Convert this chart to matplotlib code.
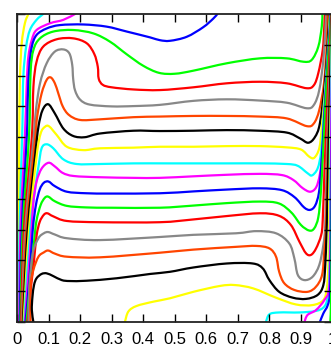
import matplotlib.pyplot as plt
from matplotlib.path import Path
from matplotlib.patches import PathPatch

# isotherms of the cavity, listed from the warmest (top left) to the coldest (bottom right)
# each one as (x, y) points along the line
iso_01 = [(0.003, 0.0), (0.005, 0.3), (0.007, 0.6), (0.0095, 0.796), (0.015, 0.905), (0.025, 0.970), (0.036, 1.0)]
iso_02 = [(0.005, 0.0), (0.008, 0.3), (0.017, 0.63), (0.020, 0.796), (0.029, 0.894), (0.041, 0.948),
          (0.062, 0.981), (0.083, 1.0)]
iso_03 = [(0.007, 0.0), (0.011, 0.3), (0.025, 0.6), (0.031, 0.775), (0.036, 0.861), (0.047, 0.916),
          (0.062, 0.948), (0.105, 0.970), (0.147, 0.981), (0.184, 1.0)]
iso_04 = [(0.009, 0.0), (0.015, 0.3), (0.031, 0.6), (0.034, 0.721), (0.039, 0.829), (0.047, 0.894),
          (0.062, 0.932), (0.094, 0.953), (0.136, 0.964), (0.210, 0.966), (0.284, 0.959), (0.348, 0.943),
          (0.422, 0.924), (0.453, 0.915), (0.485, 0.913), (0.538, 0.926), (0.590, 0.957), (0.622, 0.985),
          (0.635, 1.0)]
iso_05 = [(0.011, 0.0), (0.018, 0.3), (0.038, 0.6), (0.043, 0.808), (0.052, 0.883), (0.073, 0.921),
          (0.115, 0.943), (0.178, 0.948), (0.242, 0.937), (0.295, 0.910), (0.348, 0.869), (0.400, 0.832),
          (0.450, 0.809), (0.500, 0.806), (0.559, 0.816), (0.665, 0.840), (0.770, 0.856), (0.855, 0.856),
          (0.908, 0.845), (0.934, 0.851), (0.955, 0.894), (0.966, 0.959), (0.968, 1.0)]
iso_06 = [(0.013, 0.0), (0.022, 0.3), (0.047, 0.6), (0.052, 0.764), (0.062, 0.845), (0.083, 0.894),
          (0.126, 0.918), (0.178, 0.921), (0.221, 0.905), (0.245, 0.870), (0.256, 0.829), (0.259, 0.790),
          (0.272, 0.770), (0.300, 0.762), (0.369, 0.755), (0.453, 0.753), (0.559, 0.762), (0.665, 0.775),
          (0.770, 0.780), (0.855, 0.775), (0.918, 0.759), (0.941, 0.769), (0.955, 0.808), (0.969, 0.883),
          (0.974, 0.959), (0.976, 1.0)]
iso_07 = [(0.015, 0.0), (0.026, 0.3), (0.053, 0.6), (0.060, 0.688), (0.073, 0.775), (0.094, 0.840),
          (0.120, 0.878), (0.147, 0.885), (0.166, 0.872), (0.175, 0.835), (0.178, 0.790), (0.184, 0.752),
          (0.200, 0.722), (0.230, 0.706), (0.300, 0.700), (0.369, 0.701), (0.453, 0.705), (0.559, 0.718),
          (0.665, 0.723), (0.770, 0.719), (0.855, 0.712), (0.918, 0.694), (0.941, 0.705), (0.958, 0.753),
          (0.971, 0.851), (0.978, 0.959), (0.980, 1.0)]
iso_08 = [(0.017, 0.0), (0.030, 0.3), (0.058, 0.6), (0.064, 0.667), (0.078, 0.742), (0.094, 0.786),
          (0.107, 0.794), (0.120, 0.775), (0.131, 0.742), (0.145, 0.700), (0.165, 0.672), (0.200, 0.656),
          (0.263, 0.658), (0.369, 0.665), (0.453, 0.667), (0.559, 0.669), (0.665, 0.669), (0.770, 0.667),
          (0.855, 0.661), (0.918, 0.636), (0.941, 0.645), (0.958, 0.688), (0.973, 0.775), (0.982, 0.905),
          (0.985, 1.0)]
iso_09 = [(0.019, 0.0), (0.034, 0.3), (0.057, 0.537), (0.068, 0.634), (0.081, 0.688), (0.099, 0.707),
          (0.120, 0.677), (0.147, 0.628), (0.178, 0.604), (0.215, 0.600), (0.263, 0.612), (0.369, 0.621),
          (0.453, 0.620), (0.559, 0.621), (0.665, 0.623), (0.770, 0.621), (0.855, 0.615), (0.897, 0.596),
          (0.923, 0.582), (0.944, 0.600), (0.960, 0.645), (0.976, 0.775), (0.987, 0.937), (0.989, 1.0)]
iso_10 = [(0.021, 0.0), (0.038, 0.3), (0.062, 0.537), (0.075, 0.612), (0.089, 0.634), (0.102, 0.635),
          (0.126, 0.607), (0.158, 0.569), (0.210, 0.558), (0.263, 0.564), (0.369, 0.566), (0.453, 0.569),
          (0.559, 0.569), (0.665, 0.571), (0.770, 0.571), (0.855, 0.567), (0.900, 0.560), (0.926, 0.537),
          (0.942, 0.533), (0.958, 0.564), (0.966, 0.629), (0.972, 0.700), (0.981, 0.800), (0.988, 0.900),
          (0.991, 1.0)]
iso_11 = [(0.023, 0.0), (0.042, 0.3), (0.060, 0.45), (0.068, 0.504), (0.078, 0.564), (0.094, 0.577),
          (0.115, 0.564), (0.147, 0.528), (0.189, 0.513), (0.263, 0.513), (0.369, 0.515), (0.485, 0.515),
          (0.665, 0.515), (0.770, 0.515), (0.855, 0.513), (0.890, 0.507), (0.921, 0.483), (0.935, 0.476),
          (0.953, 0.499), (0.964, 0.553), (0.971, 0.650), (0.980, 0.800), (0.988, 0.920), (0.993, 1.0)]
iso_12 = [(0.025, 0.0), (0.046, 0.3), (0.052, 0.391), (0.062, 0.456), (0.078, 0.498), (0.100, 0.517),
          (0.120, 0.505), (0.145, 0.484), (0.180, 0.474), (0.263, 0.470), (0.369, 0.468), (0.453, 0.468),
          (0.559, 0.473), (0.665, 0.478), (0.770, 0.481), (0.840, 0.477), (0.876, 0.461), (0.905, 0.435),
          (0.929, 0.423), (0.948, 0.437), (0.960, 0.480), (0.968, 0.550), (0.976, 0.700), (0.986, 0.870),
          (0.994, 1.0)]
iso_13 = [(0.027, 0.0), (0.040, 0.15), (0.050, 0.30), (0.060, 0.380), (0.072, 0.430), (0.085, 0.452),
          (0.100, 0.456), (0.120, 0.441), (0.158, 0.423), (0.220, 0.418), (0.300, 0.417), (0.453, 0.418),
          (0.559, 0.424), (0.665, 0.430), (0.770, 0.434), (0.840, 0.428), (0.880, 0.405), (0.910, 0.372),
          (0.929, 0.364), (0.945, 0.378), (0.957, 0.420), (0.964, 0.500), (0.973, 0.650), (0.985, 0.850),
          (0.995, 1.0)]
iso_14 = [(0.030, 0.0), (0.044, 0.15), (0.055, 0.27), (0.062, 0.330), (0.075, 0.380), (0.088, 0.403),
          (0.099, 0.407), (0.120, 0.392), (0.158, 0.377), (0.220, 0.372), (0.300, 0.371), (0.453, 0.371),
          (0.559, 0.378), (0.665, 0.386), (0.770, 0.391), (0.830, 0.385), (0.870, 0.355), (0.900, 0.315),
          (0.926, 0.297), (0.942, 0.304), (0.955, 0.340), (0.963, 0.420), (0.970, 0.550), (0.980, 0.750),
          (0.990, 0.920), (0.996, 1.0)]
iso_15 = [(0.033, 0.0), (0.045, 0.12), (0.054, 0.20), (0.062, 0.280), (0.072, 0.325), (0.085, 0.348),
          (0.096, 0.353), (0.115, 0.343), (0.158, 0.328), (0.263, 0.324), (0.453, 0.324), (0.559, 0.333),
          (0.665, 0.344), (0.770, 0.353), (0.830, 0.345), (0.868, 0.315), (0.895, 0.261), (0.916, 0.223),
          (0.932, 0.218), (0.948, 0.239), (0.964, 0.282), (0.969, 0.330), (0.975, 0.500), (0.983, 0.700),
          (0.992, 0.900), (0.997, 1.0)]
iso_16 = [(0.037, 0.0), (0.039, 0.115), (0.050, 0.223), (0.068, 0.272), (0.085, 0.288), (0.099, 0.292),
          (0.120, 0.284), (0.158, 0.272), (0.263, 0.266), (0.453, 0.276), (0.559, 0.283), (0.694, 0.288),
          (0.758, 0.295), (0.821, 0.288), (0.863, 0.255), (0.879, 0.207), (0.890, 0.153), (0.911, 0.136),
          (0.937, 0.147), (0.958, 0.185), (0.971, 0.250), (0.977, 0.315), (0.981, 0.500), (0.987, 0.700),
          (0.994, 0.900), (0.998, 1.0)]
iso_17 = [(0.043, 0.0), (0.043, 0.115), (0.052, 0.169), (0.068, 0.212), (0.085, 0.226), (0.099, 0.232),
          (0.120, 0.222), (0.158, 0.212), (0.263, 0.210), (0.453, 0.225), (0.559, 0.235), (0.694, 0.244),
          (0.758, 0.247), (0.800, 0.239), (0.821, 0.212), (0.831, 0.163), (0.847, 0.126), (0.879, 0.104),
          (0.921, 0.098), (0.948, 0.115), (0.967, 0.153), (0.974, 0.228), (0.980, 0.315), (0.984, 0.500),
          (0.990, 0.700), (0.996, 0.900), (0.999, 1.0)]
iso_18 = [(0.052, 0.0), (0.047, 0.039), (0.049, 0.082), (0.054, 0.120), (0.062, 0.142), (0.078, 0.156),
          (0.094, 0.158), (0.115, 0.149), (0.142, 0.136), (0.168, 0.133), (0.221, 0.134), (0.316, 0.142),
          (0.422, 0.156), (0.485, 0.163), (0.559, 0.177), (0.665, 0.190), (0.747, 0.190), (0.779, 0.174),
          (0.800, 0.136), (0.831, 0.098), (0.874, 0.079), (0.916, 0.075), (0.953, 0.088), (0.971, 0.120),
          (0.977, 0.185), (0.982, 0.315), (0.986, 0.500), (0.992, 0.750), (0.998, 1.0)]
iso_19 = [(0.342, 0.0), (0.353, 0.034), (0.379, 0.052), (0.432, 0.066), (0.485, 0.077), (0.559, 0.098),
          (0.643, 0.117), (0.690, 0.120), (0.749, 0.109), (0.821, 0.079), (0.884, 0.057), (0.937, 0.055),
          (0.971, 0.071), (0.982, 0.109), (0.987, 0.185), (0.989, 0.315), (0.991, 0.500), (0.995, 0.750),
          (0.999, 1.0)]
iso_20 = [(0.789, 0.0), (0.800, 0.025), (0.831, 0.031), (0.895, 0.031), (0.948, 0.036), (0.974, 0.050),
          (0.985, 0.082), (0.990, 0.153), (0.992, 0.315), (0.994, 0.600), (0.999, 1.0)]
iso_21 = [(0.911, 0.0), (0.921, 0.023), (0.948, 0.039), (0.974, 0.071), (0.989, 0.109), (0.993, 0.250),
          (0.996, 0.600), (1.0, 1.0)]
iso_22 = [(0.960, 0.0), (0.971, 0.028), (0.985, 0.055), (0.992, 0.098), (0.995, 0.250), (0.998, 0.600),
          (1.0, 1.0)]
iso_23 = [(0.993, 0.0), (0.996, 0.100), (0.998, 0.400), (1.0, 1.0)]

isotherms = [iso_01, iso_02, iso_03, iso_04, iso_05, iso_06, iso_07, iso_08, iso_09, iso_10, iso_11, iso_12,
             iso_13, iso_14, iso_15, iso_16, iso_17, iso_18, iso_19, iso_20, iso_21, iso_22, iso_23]

# gnuplot style line colours, cycled down the levels
line_colors = ['#ffff00', '#00ffff', '#ff00ff', '#0000ff', '#00ff00', '#ff0000', '#888888', '#ff4500', '#000000']

x_ticks = [0, 0.1, 0.2, 0.3, 0.4, 0.5, 0.6, 0.7, 0.8, 0.9, 1]
x_tick_labels = ['0', '0.1', '0.2', '0.3', '0.4', '0.5', '0.6', '0.7', '0.8', '0.9', '1']
y_ticks = [0, 0.1, 0.2, 0.3, 0.4, 0.5, 0.6, 0.7, 0.8, 0.9, 1]


def smooth_path(points):
    # pass a cubic Bezier through every point (Catmull-Rom tangents), so the line bends smoothly
    pts = [points[0]] + list(points) + [points[-1]]
    verts = [points[0]]
    codes = [Path.MOVETO]
    for i in range(1, len(pts) - 2):
        p0, p1, p2, p3 = pts[i - 1], pts[i], pts[i + 1], pts[i + 2]
        c1 = (p1[0] + (p2[0] - p0[0]) / 6, p1[1] + (p2[1] - p0[1]) / 6)
        c2 = (p2[0] - (p3[0] - p1[0]) / 6, p2[1] - (p3[1] - p1[1]) / 6)
        verts += [c1, c2, p2]
        codes += [Path.CURVE4] * 3
    return Path(verts, codes)


plt.rcParams['font.family'] = ['Liberation Sans', 'DejaVu Sans']

fig = plt.figure(figsize=(3.31, 3.49), dpi=100)
ax = fig.add_axes([17 / 331, 27 / 349, 315.5 / 331, 308 / 349])

for i, line in enumerate(isotherms):
    patch = PathPatch(smooth_path(line), fill=False, edgecolor=line_colors[i % len(line_colors)],
                      linewidth=1.6, joinstyle='round', capstyle='round')
    ax.add_patch(patch)

ax.set_xlim(0, 1)
ax.set_ylim(0, 1)
ax.set_xticks(x_ticks)
ax.set_xticklabels(x_tick_labels)
ax.set_yticks(y_ticks)
ax.set_yticklabels([])
ax.tick_params(direction='in', length=5.5, width=1.0, top=True, right=True, labelsize=12, pad=7)
for spine in ax.spines.values():
    spine.set_linewidth(1.3)
    spine.set_color('#222222')

plt.savefig('out.png', dpi=100)
